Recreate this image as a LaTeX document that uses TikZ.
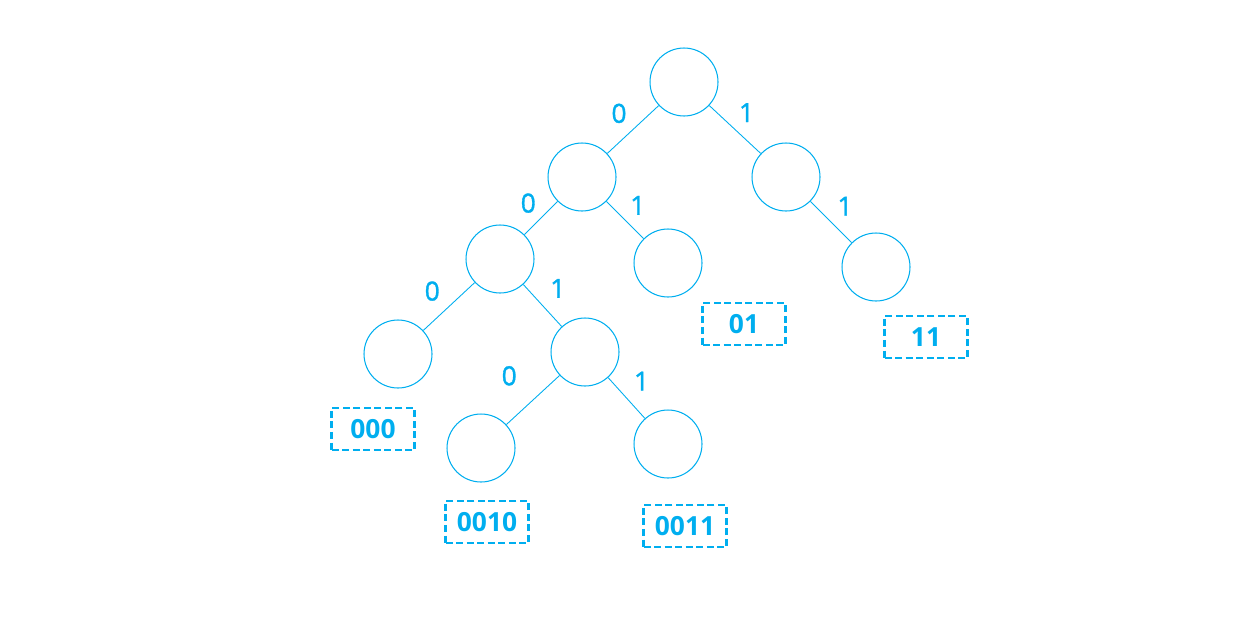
\documentclass[tikz,border=0pt]{standalone}
\usepackage{fontspec}
\setmainfont{Open Sans}
\newfontfamily\bitfont[FakeBold=1.2]{Open Sans}
\usepackage{xcolor}
\usepackage{tikz}
\usetikzlibrary{positioning}

\definecolor{treeblue}{RGB}{0,174,239}

\begin{document}
\begin{tikzpicture}[
    x=0.02cm, y=-0.02cm,
    vertex/.style={circle, draw=treeblue, line width=0.6pt, minimum size=1.36cm, inner sep=0pt},
    edge/.style={draw=treeblue, line width=0.5pt},
    bit/.style={text=treeblue, font=\bitfont\fontsize{15}{18}\selectfont, inner sep=2pt},
    code/.style={rectangle, draw=treeblue, dash pattern=on 4pt off 2pt, line width=1.3pt, minimum width=1.66cm, minimum height=0.84cm, text=treeblue, font=\fontsize{15}{18}\selectfont\bfseries}
]
    \useasboundingbox (0,0) rectangle (1236,636);

    % tree nodes
    \node[vertex] (root) at (684,82) {};
    \node[vertex] (n0) at (582,177) {};
    \node[vertex] (n1) at (786,177) {};
    \node[vertex] (n00) at (500,259) {};
    \node[vertex] (n01) at (668,263) {};
    \node[vertex] (n11) at (876,267) {};
    \node[vertex] (n000) at (398,354) {};
    \node[vertex] (n001) at (585,352) {};
    \node[vertex] (n0010) at (481,448) {};
    \node[vertex] (n0011) at (668,444) {};

    % codes of the leaves
    \node[code] (c000) at (373,429) {000};
    \node[code] (c0010) at (487,522) {0010};
    \node[code] (c0011) at (685,526) {0011};
    \node[code] (c01) at (744,324) {01};
    \node[code] (c11) at (926,337) {11};

    % branches
    \draw[edge] (root) -- node[bit, above left=2pt] {0} (n0);
    \draw[edge] (root) -- node[bit, above right=2pt and 0pt] {1} (n1);
    \draw[edge] (n0) -- node[bit, above left=1pt] {0} (n00);
    \draw[edge] (n0) -- node[bit, above right=1pt] {1} (n01);
    \draw[edge] (n1) -- node[bit, above right=2pt] {1} (n11);
    \draw[edge] (n00) -- node[bit, above left=1pt and 3pt] {0} (n000);
    \draw[edge] (n00) -- node[bit, above right=3pt] {1} (n001);
    \draw[edge] (n001) -- node[bit, above left=6pt and 7pt] {0} (n0010);
    \draw[edge] (n001) -- node[bit, above right=2pt and 2pt] {1} (n0011);
\end{tikzpicture}
\end{document}
